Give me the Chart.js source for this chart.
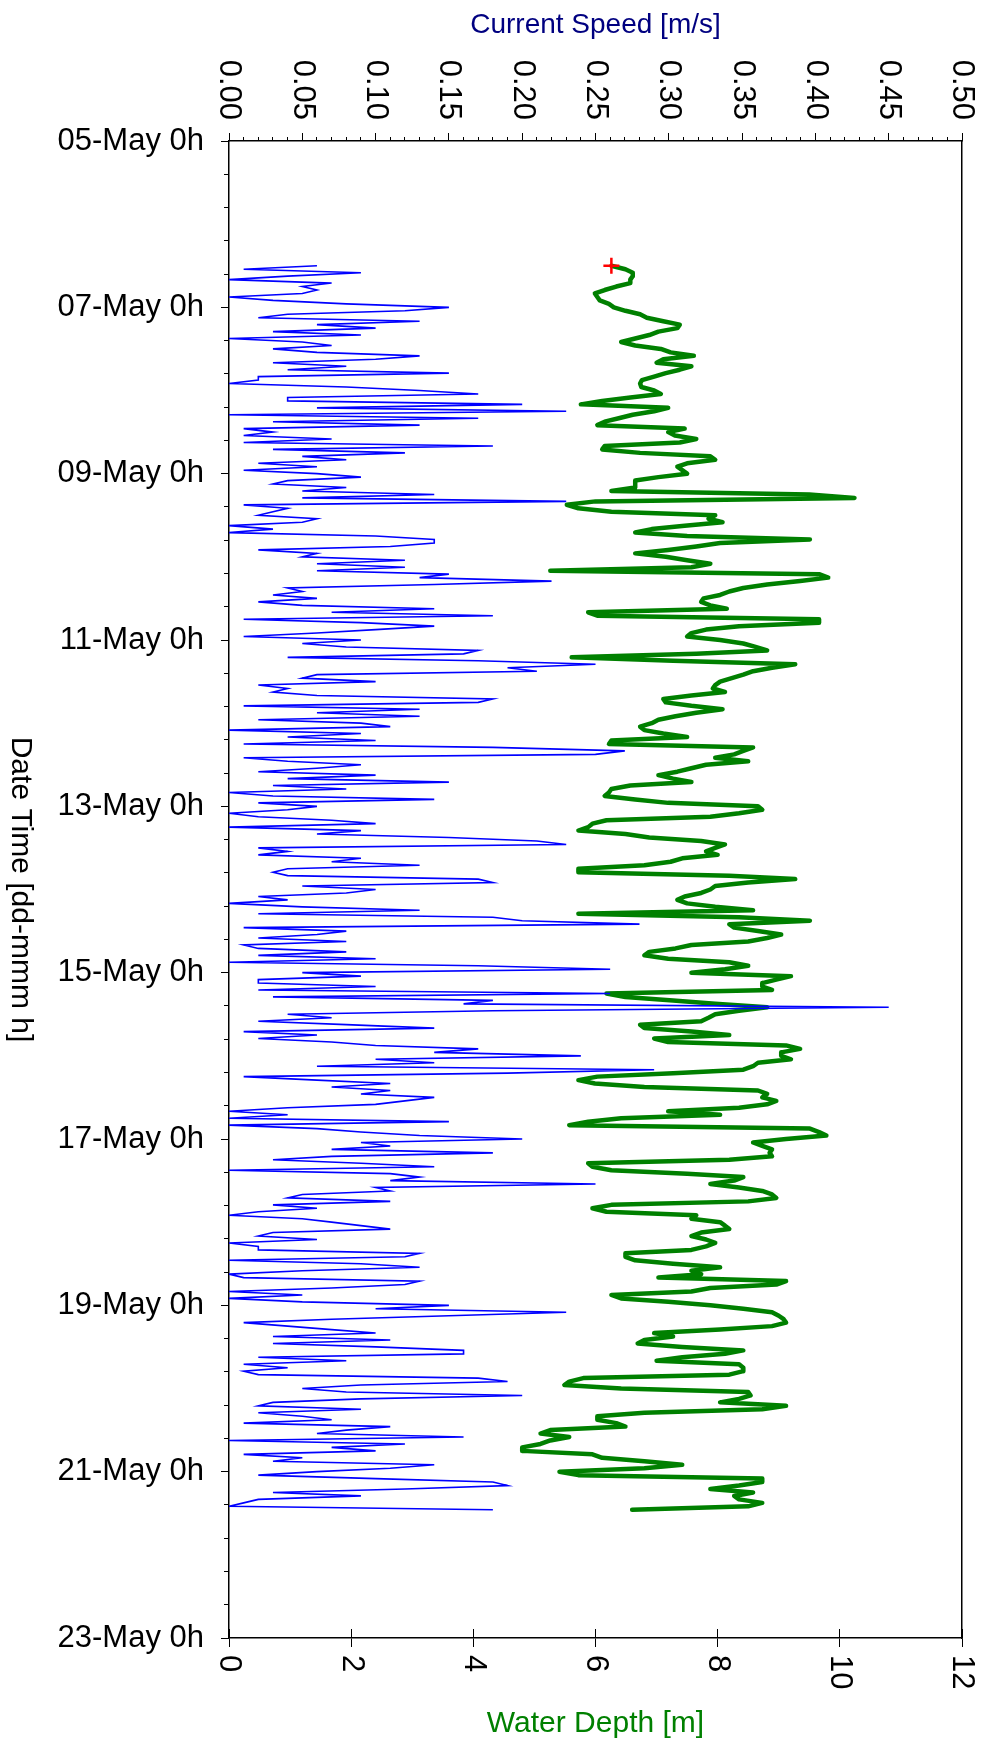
<!DOCTYPE html>
<html>
<head>
<meta charset="utf-8">
<script src="https://cdn.jsdelivr.net/npm/chart.js@4"></script>
<style>
  html, body { margin: 0; padding: 0; background: #fff; }
</style>
</head>
<body>
<canvas id="chart" width="984" height="1749"></canvas>
<script>
// hourly record, first sample 06-May 12h (hours counted from 05-May 0h)
const startHour = 36;

// current speed [m/s]
const speed = [
  0.06, 0.01, 0.09, 0.04, 0.00, 0.07, 0.05, 0.06, 0.05, 0.00, 0.03, 0.08,
  0.15, 0.12, 0.04, 0.02, 0.13, 0.06, 0.10, 0.03, 0.09, 0.00, 0.05, 0.07,
  0.03, 0.06, 0.13, 0.10, 0.03, 0.08, 0.04, 0.15, 0.02,
  0.02, 0.00, 0.08, 0.13, 0.17, 0.04, 0.04, 0.20, 0.06, 0.23, 0.00, 0.17,
  0.03, 0.13, 0.01, 0.03, 0.01, 0.07, 0.01, 0.18, 0.03, 0.12, 0.05, 0.08,
  0.02, 0.06, 0.01, 0.06, 0.09, 0.04, 0.03, 0.08, 0.05, 0.14, 0.05, 0.23,
  0.01, 0.04, 0.03, 0.02, 0.06, 0.05, 0.00, 0.03, 0.00, 0.10, 0.14, 0.14,
  0.11, 0.02, 0.06, 0.05, 0.12, 0.06, 0.12, 0.06, 0.15, 0.13, 0.22, 0.14,
  0.04, 0.05, 0.03, 0.06, 0.02, 0.05, 0.14, 0.07, 0.18, 0.01, 0.09, 0.14,
  0.10, 0.06, 0.01, 0.09, 0.05, 0.08, 0.17, 0.16, 0.04, 0.17, 0.25, 0.19,
  0.21, 0.06, 0.05, 0.10, 0.02, 0.04, 0.03, 0.06, 0.18, 0.17, 0.01, 0.13,
  0.06, 0.13, 0.02, 0.09, 0.11, 0.00, 0.09, 0.04, 0.10, 0.01, 0.18, 0.27,
  0.25, 0.01, 0.04, 0.09, 0.06, 0.02, 0.10, 0.04, 0.15, 0.03, 0.08, 0.00,
  0.03, 0.14, 0.02, 0.06, 0.04, 0.00, 0.02, 0.07, 0.10, 0.00, 0.09, 0.06,
  0.15, 0.21, 0.23, 0.02, 0.04, 0.02, 0.09, 0.07, 0.13, 0.04, 0.03, 0.04,
  0.17, 0.18, 0.05, 0.10, 0.08, 0.02, 0.04, 0.00, 0.05, 0.13, 0.02, 0.18,
  0.20, 0.28, 0.01, 0.08, 0.06, 0.02, 0.08, 0.01, 0.02, 0.08, 0.02, 0.10,
  0.00, 0.17, 0.26, 0.05, 0.09, 0.02, 0.02, 0.10, 0.02, 0.26, 0.03, 0.18,
  0.16, 0.45, 0.18, 0.04, 0.07, 0.02, 0.08, 0.14, 0.01, 0.06, 0.02, 0.07,
  0.10, 0.17, 0.14, 0.24, 0.10, 0.14, 0.06, 0.29, 0.19, 0.01, 0.06, 0.11,
  0.07, 0.11, 0.09, 0.14, 0.12, 0.10, 0.04, 0.00, 0.04, 0.00, 0.15, 0.00, 0.06,
  0.09, 0.13, 0.20, 0.09, 0.11, 0.07, 0.18, 0.07, 0.03, 0.09, 0.14, 0.00,
  0.11, 0.13, 0.11, 0.25, 0.10, 0.11, 0.05, 0.04, 0.11, 0.03, 0.06, 0.02,
  0.00, 0.05, 0.07, 0.09, 0.11, 0.03, 0.02, 0.06, 0.00, 0.02, 0.02, 0.13,
  0.12, 0.00, 0.09, 0.13, 0.05, 0.00, 0.01, 0.13, 0.12, 0.07, 0.00, 0.05,
  0.00, 0.05, 0.15, 0.10, 0.23, 0.15, 0.07, 0.01, 0.04, 0.07, 0.10, 0.03,
  0.11, 0.03, 0.10, 0.16, 0.16, 0.02, 0.08, 0.01, 0.04, 0.01, 0.02, 0.17,
  0.19, 0.09, 0.05, 0.08, 0.20, 0.09, 0.03, 0.02, 0.09, 0.02, 0.05, 0.07,
  0.01, 0.11, 0.08, 0.06, 0.16, 0.00, 0.12, 0.07, 0.10, 0.01, 0.05, 0.03,
  0.14, 0.11, 0.06, 0.02, 0.10, 0.18, 0.19, 0.12, 0.03, 0.09, 0.02, 0.01,
  0.00, 0.18
];

// water depth [m]
const depth = [
  6.26, 6.49, 6.61, 6.61, 6.57, 6.57, 6.34, 6.15, 5.99, 6.03, 6.07, 6.22,
  6.30, 6.49, 6.73, 6.84, 7.11, 7.38, 7.34, 7.03, 6.88, 6.65, 6.42, 6.65,
  7.07, 7.23, 7.61, 7.11, 7.00, 7.57, 7.38, 7.15, 6.96,
  6.76, 6.73, 6.75, 6.96, 7.07, 6.57, 6.11, 5.76, 7.19, 6.96, 6.61, 6.38,
  6.15, 6.03, 7.46, 7.19, 7.30, 7.65, 7.38, 6.15, 6.11, 6.73, 7.88, 7.96,
  7.50, 7.34, 7.42, 7.50, 7.03, 6.65, 6.65, 6.65, 6.26, 9.50, 10.24, 6.00,
  5.53, 5.72, 6.26, 7.96, 7.85, 8.08, 7.46, 6.92, 6.65, 7.50, 9.51, 8.04,
  7.65, 7.19, 6.65, 7.15, 7.50, 7.88, 7.57, 5.26, 9.66, 9.81, 9.35, 8.81,
  8.42, 8.19, 8.04, 7.77, 7.73, 7.88, 8.15, 5.88, 6.03, 9.66, 9.66, 8.35,
  7.81, 7.57, 7.50, 8.04, 8.42, 8.62, 8.81, 7.65, 5.61, 7.27, 9.27, 8.89,
  8.58, 8.42, 8.23, 8.04, 7.96, 7.92, 8.12, 7.57, 7.11, 7.15, 7.57, 8.08,
  7.65, 7.31, 7.03, 6.92, 6.73, 6.80, 7.11, 7.50, 6.26, 6.22, 8.58, 8.42,
  8.27, 7.96, 8.50, 7.81, 7.57, 7.34, 7.03, 7.27, 7.57, 6.57, 6.26, 6.22,
  6.15, 6.65, 7.19, 8.66, 8.73, 8.35, 7.88, 6.18, 5.95, 5.88, 5.72, 6.49,
  6.88, 7.73, 8.12, 7.96, 7.81, 8.00, 7.42, 7.23, 6.80, 5.72, 5.72, 8.19,
  9.27, 8.50, 7.96, 7.88, 7.73, 7.46, 7.34, 7.50, 7.96, 8.58, 5.72, 8.35,
  9.51, 8.19, 8.27, 8.66, 9.04, 8.81, 8.50, 7.57, 7.31, 6.88, 6.80, 7.19,
  8.19, 8.50, 8.12, 7.57, 9.20, 8.96, 8.73, 8.73, 8.89, 6.18, 6.49, 7.27,
  7.96, 8.81, 8.35, 7.96, 7.85, 7.73, 6.73, 6.80, 7.57, 8.19, 6.96, 7.19,
  9.12, 9.35, 9.04, 9.04, 9.20, 8.66, 8.58, 8.42, 7.27, 6.03, 5.72, 5.99,
  6.80, 8.66, 8.81, 8.73, 8.96, 8.81, 8.35, 7.19, 8.04, 6.42, 5.88, 5.57, 9.51,
  9.66, 9.78, 9.12, 8.58, 8.73, 8.89, 8.85, 8.89, 8.19, 5.88, 5.95, 6.26,
  7.50, 8.42, 8.27, 7.88, 8.35, 8.73, 8.89, 8.96, 8.50, 6.26, 5.95, 6.18,
  7.65, 7.57, 8.04, 8.12, 8.19, 7.73, 7.57, 7.81, 7.96, 7.81, 7.57, 6.49,
  6.49, 6.65, 7.27, 8.04, 7.57, 7.73, 7.03, 9.12, 8.96, 7.88, 7.57, 6.26,
  6.42, 7.19, 7.88, 8.42, 8.89, 9.00, 9.08, 9.12, 8.89, 8.04, 6.96, 7.27,
  6.80, 6.69, 7.42, 8.42, 8.12, 7.42, 7.00, 8.35, 8.42, 8.42, 8.19, 5.80,
  5.57, 5.49, 6.42, 8.50, 8.54, 8.35, 8.04, 9.12, 8.73, 6.80, 6.03, 6.03,
  6.34, 6.49, 5.26, 5.10, 5.57, 5.26, 5.10, 4.80, 4.80, 5.95, 6.11, 6.80,
  7.42, 6.80, 5.41, 5.72, 8.73, 8.73, 8.35, 7.88, 8.58, 8.27, 8.35, 8.73,
  8.50, 6.60
];

const speedTickLabels = ['0.00', '0.05', '0.10', '0.15', '0.20', '0.25', '0.30', '0.35', '0.40', '0.45', '0.50'];
const depthTickLabels = ['0', '2', '4', '6', '8', '10', '12'];

const FONT = '"Liberation Sans", Arial, sans-serif';

const hours = speed.map((_, i) => startHour + i);
const speedPts = hours.map((h, i) => ({ x: speed[i], y: h }));
const depthPts = hours.map((h, i) => ({ x: depth[i], y: h }));

const isMajorSpeed = (v) => Math.round(v * 100) % 5 === 0;
const isMajorTime = (v) => Math.round(v * 10) % 480 === 0;

function dayLabel(v) {
  const d = 5 + Math.round(v / 24);
  return String(d).padStart(2, '0') + '-May 0h';
}

// value-axis tick labels and the time-axis title read top-to-bottom
const rotatedText = {
  id: 'rotatedText',
  afterDraw(chart) {
    const { ctx, chartArea } = chart;
    const top = chart.scales.xSpeed;
    const bot = chart.scales.xDepth;
    ctx.save();
    ctx.font = '31px ' + FONT;
    ctx.fillStyle = '#000';
    ctx.textBaseline = 'middle';

    top.ticks.filter(t => isMajorSpeed(t.value)).forEach((t, i) => {
      ctx.save();
      ctx.translate(top.getPixelForValue(t.value), chartArea.top - 21);
      ctx.rotate(Math.PI / 2);
      ctx.textAlign = 'right';
      ctx.fillText(speedTickLabels[i], 0, 0);
      ctx.restore();
    });

    bot.ticks.forEach((t, i) => {
      ctx.save();
      ctx.translate(bot.getPixelForValue(t.value), chartArea.bottom + 17);
      ctx.rotate(Math.PI / 2);
      ctx.textAlign = 'left';
      ctx.fillText(depthTickLabels[i], 0, 0);
      ctx.restore();
    });

    ctx.font = '30px ' + FONT;
    ctx.translate(20, (chartArea.top + chartArea.bottom) / 2);
    ctx.rotate(Math.PI / 2);
    ctx.textAlign = 'center';
    ctx.fillText('Date Time [dd-mmm h]', 0, 0);
    ctx.restore();
  }
};

new Chart(document.getElementById('chart'), {
  type: 'line',
  data: {
    datasets: [
      {
        label: 'Current Speed',
        data: speedPts,
        xAxisID: 'xSpeed',
        yAxisID: 'y',
        borderColor: '#0000ff',
        borderWidth: 1.6,
        pointRadius: 0,
        tension: 0
      },
      {
        label: 'Water Depth',
        data: depthPts,
        xAxisID: 'xDepth',
        yAxisID: 'y',
        borderColor: '#008000',
        borderWidth: 4.5,
        borderJoinStyle: 'round',
        borderCapStyle: 'round',
        pointStyle: 'cross',
        pointRadius: (c) => (c.dataIndex === 0 ? 8 : 0),
        pointBorderColor: '#ff0000',
        pointBorderWidth: 2.5,
        tension: 0
      }
    ]
  },
  options: {
    responsive: false,
    animation: false,
    devicePixelRatio: 1,
    indexAxis: 'y',
    layout: { padding: { left: 0, top: 0, right: 22, bottom: 0 } },
    plugins: {
      legend: { display: false },
      tooltip: { enabled: false }
    },
    scales: {
      xSpeed: {
        type: 'linear',
        position: 'top',
        min: 0,
        max: 0.5,
        ticks: { display: false, stepSize: 0.01, autoSkip: false },
        grid: {
          drawOnChartArea: false,
          tickLength: 8,
          tickColor: '#000',
          tickWidth: 1,
          tickBorderDash: (c) => (c.tick && !isMajorSpeed(c.tick.value) ? [0, 4, 4, 100] : [])
        },
        border: { display: true, color: '#000', width: 1.5 },
        title: {
          display: true,
          text: 'Current Speed [m/s]',
          color: '#000080',
          font: { family: FONT, size: 28 },
          padding: { top: 8, bottom: 0 }
        },
        afterFit: (s) => { s.height = 141; }
      },
      xDepth: {
        type: 'linear',
        position: 'bottom',
        min: 0,
        max: 12,
        ticks: { display: false, stepSize: 2, autoSkip: false },
        grid: {
          drawOnChartArea: true,
          color: '#000',
          lineWidth: 1,
          tickLength: 9,
          tickColor: '#000',
          tickWidth: 1
        },
        border: {
          display: true,
          color: '#000',
          width: 1.5,
          // only the last few pixels of each grid line show, as inner tick marks
          dash: (c) => {
            const h = c.chart.chartArea ? c.chart.chartArea.height : 1500;
            return [0, h - 9, 9, h + 50];
          }
        },
        title: {
          display: true,
          text: 'Water Depth [m]',
          color: '#008000',
          font: { family: FONT, size: 30 },
          padding: { top: 0, bottom: 7 }
        },
        afterFit: (s) => { s.height = 111; }
      },
      y: {
        type: 'linear',
        position: 'left',
        reverse: true,
        min: 0,
        max: 432,
        ticks: {
          stepSize: 9.6,
          autoSkip: false,
          color: '#000',
          padding: 17,
          font: { family: FONT, size: 31 },
          callback: (v) => (isMajorTime(v) ? dayLabel(v) : '')
        },
        grid: {
          drawOnChartArea: false,
          tickLength: 8,
          tickColor: '#000',
          tickWidth: 1,
          tickBorderDash: (c) => (c.tick && !isMajorTime(c.tick.value) ? [0, 3, 5, 100] : [])
        },
        border: { display: true, color: '#000', width: 1.5 },
        afterFit: (s) => { s.width = 229; }
      },
      yFrame: {
        type: 'linear',
        position: 'right',
        min: 0,
        max: 1,
        ticks: { display: false },
        grid: { drawOnChartArea: false, drawTicks: false },
        border: { display: true, color: '#000', width: 1.5 },
        afterFit: (s) => { s.width = 0; }
      }
    }
  },
  plugins: [rotatedText]
});
</script>
</body>
</html>
